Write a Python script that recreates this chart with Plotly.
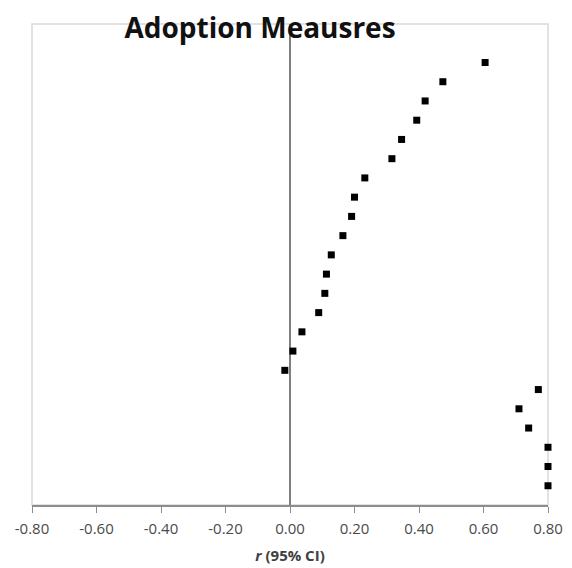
import plotly.graph_objects as go

# Effect sizes (r), listed from top row to bottom row
r_values = [0.605, 0.474, 0.419, 0.393, 0.346, 0.316, 0.232, 0.200, 0.191,
            0.164, 0.128, 0.113, 0.108, 0.089, 0.037, 0.009, -0.016,
            0.770, 0.710, 0.740, 0.80, 0.80, 0.80]
# Row positions (top row = 23, bottom row = 1)
rows = list(range(len(r_values), 0, -1))

x_ticks = [-0.8, -0.6, -0.4, -0.2, 0.0, 0.2, 0.4, 0.6, 0.8]
x_tick_labels = ["-0.80", "-0.60", "-0.40", "-0.20", "0.00", "0.20", "0.40", "0.60", "0.80"]

fig = go.Figure()
fig.add_trace(go.Scatter(
    x=r_values, y=rows, mode="markers",
    marker=dict(symbol="square", size=7, color="black"),
    cliponaxis=False, showlegend=False,
))

fig.add_shape(type="rect", xref="x domain", yref="y domain",
              x0=0, x1=1, y0=0, y1=1,
              line=dict(color="#d9d9d9", width=1.5), layer="below")

fig.update_layout(
    width=572, height=568,
    margin=dict(l=24, r=32, t=16, b=71, autoexpand=False),
    paper_bgcolor="white", plot_bgcolor="white",
    font=dict(family="Open Sans", color="#404040"),
    title=dict(text="<b>Adoption Meausres</b>", x=(260 - 8) / 572, xanchor="center",
               y=1 - 20 / 568, yanchor="middle", yref="container",
               font=dict(size=28, color="#111111", family="Open Sans")),
    xaxis=dict(range=[-0.8, 0.8], tickvals=x_ticks, ticktext=x_tick_labels,
               automargin=False,
               showgrid=False, zeroline=True, zerolinecolor="#7f7f7f", zerolinewidth=1.5,
               showline=True, linecolor="#8c8c8c", linewidth=1.5,
               ticks="outside", ticklen=6, tickcolor="#8c8c8c",
               ticklabelstandoff=3,
               tickfont=dict(size=15, color="#4a4a4a"),
               title=dict(text="<b><i>r</i> (95% CI)</b>", font=dict(size=15, color="#404040"),
                          standoff=14)),
    yaxis=dict(range=[0, 25], showticklabels=False, showgrid=False, automargin=False,
               zeroline=False, showline=False, ticks=""),
)

fig.write_html("out.html")
